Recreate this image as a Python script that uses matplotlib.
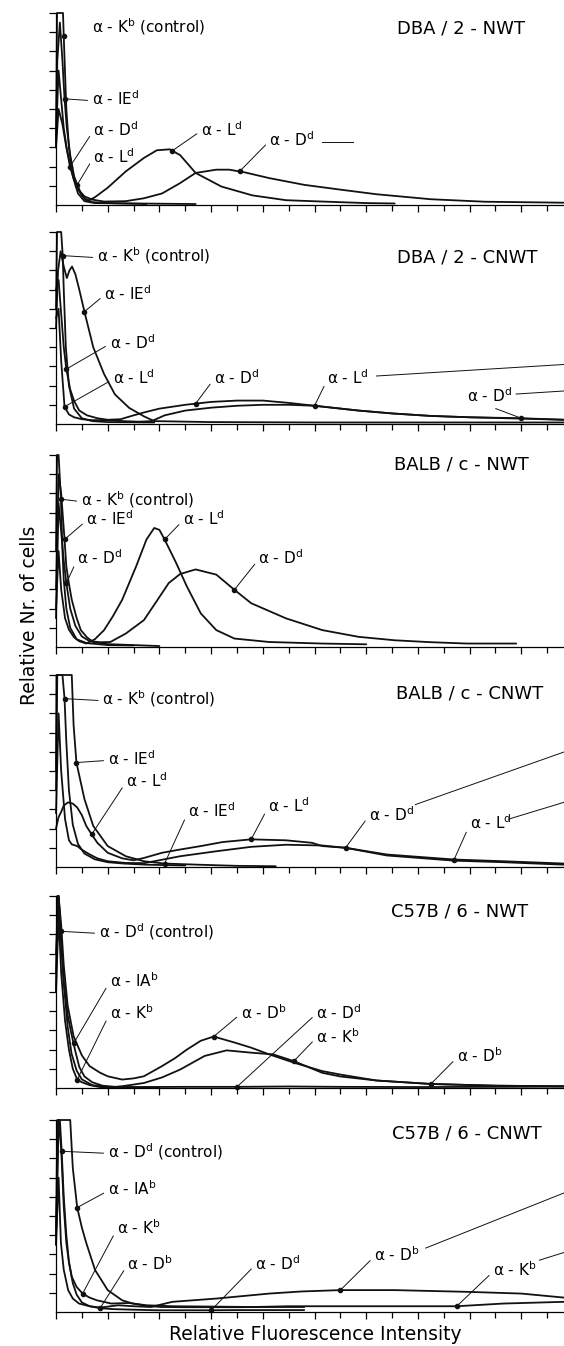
import numpy as np
import matplotlib.pyplot as plt

# x: one unit = one small tick of the intensity axis, y: one unit = one tick of the cell axis
# values

# DBA/2-NWT
p1_kb_x = [0, 0.04, 0.1, 0.18, 0.27, 0.32, 0.4, 0.5, 0.65, 0.85, 1.1, 1.5, 3.0, 5.4]
p1_kb_y = [3.0, 10.5, 11, 10.5, 10, 8.0, 5.0, 3.0, 1.5, 0.6, 0.2, 0.1, 0.08, 0.05]
p1_ied_x = [0, 0.05, 0.15, 0.25, 0.33, 0.42, 0.55, 0.7, 0.9, 1.1, 1.4, 2.0, 3.5]
p1_ied_y = [3.0, 7.5, 9.5, 7.5, 5.53, 4.0, 2.6, 1.5, 0.7, 0.35, 0.15, 0.1, 0.05]
p1_dd_x = [0, 0.1, 0.2, 0.3, 0.42, 0.54, 0.7, 0.9, 1.1, 1.4, 1.86, 2.7, 3.4, 4.1, 4.8, 5.4,
           6.2, 6.7, 7.3, 8.25, 9.6, 11.0, 12.4, 14.5, 16.6, 19.65]
p1_dd_y = [3.5, 7.0, 5.5, 4.0, 2.9, 2.0, 1.3, 0.75, 0.45, 0.28, 0.18, 0.2, 0.35, 0.6, 1.14, 1.67,
           1.84, 1.84, 1.7, 1.4, 1.05, 0.8, 0.56, 0.3, 0.17, 0.12]
p1_ld_x = [0, 0.1, 0.25, 0.4, 0.6, 0.82, 1.0, 1.2, 1.5, 2.0, 2.7, 3.4, 3.9, 4.4, 4.8, 5.4,
           6.4, 7.6, 8.9, 10.3, 12.0, 13.1]
p1_ld_y = [3.0, 5.0, 4.2, 3.0, 1.8, 1.05, 0.5, 0.2, 0.4, 0.9, 1.75, 2.45, 2.85, 2.9, 2.6, 1.67,
           0.96, 0.5, 0.25, 0.18, 0.1, 0.08]

# DBA/2-CNWT
p2_kb_x = [0, 0.04, 0.12, 0.2, 0.26, 0.3, 0.38, 0.5, 0.7, 1.0, 1.4, 2.0, 3.8]
p2_kb_y = [6.0, 11, 11, 10, 8.77, 7.0, 4.0, 2.0, 0.8, 0.3, 0.15, 0.1, 0.08]
p2_ied_x = [0, 0.08, 0.18, 0.3, 0.42, 0.52, 0.62, 0.75, 0.9, 1.1, 1.44, 1.86, 2.28, 2.83, 3.4,
            3.8, 6.0, 10.0, 15.0, 19.65]
p2_ied_y = [5.0, 8.0, 9.0, 8.2, 7.6, 8.0, 8.2, 7.8, 7.0, 5.85, 4.0, 2.6, 1.54, 0.84, 0.4,
            0.15, 0.1, 0.08, 0.08, 0.08]
p2_dd_x = [0, 0.1, 0.2, 0.3, 0.4, 0.55, 0.7, 0.9, 1.2, 1.6, 2.0, 2.5, 3.0, 3.4, 4.0, 5.0, 6.0,
           7.0, 8.0, 9.0, 10.0, 11.7, 13.0, 14.5, 16.0, 18.0, 19.65]
p2_dd_y = [7.0, 7.5, 5.75, 4.0, 2.86, 1.8, 1.2, 0.7, 0.45, 0.3, 0.22, 0.25, 0.45, 0.6, 0.8, 1.0,
           1.15, 1.22, 1.22, 1.1, 0.95, 0.7, 0.55, 0.42, 0.35, 0.3, 0.22]
p2_ld_x = [0, 0.1, 0.2, 0.33, 0.5, 0.7, 1.0, 1.4, 2.0, 2.6, 3.2, 3.7, 4.2, 5.0, 6.0, 7.0, 8.0,
           9.0, 10.0, 11.7, 13.0, 14.5, 16.0, 18.0, 19.65]
p2_ld_y = [5.5, 6.0, 3.3, 0.9, 0.5, 0.35, 0.25, 0.2, 0.2, 0.15, 0.12, 0.15, 0.45, 0.7, 0.85,
           0.95, 1.0, 1.0, 0.95, 0.7, 0.55, 0.42, 0.35, 0.28, 0.22]

# BALB/c-NWT
p3_kb_x = [0, 0.04, 0.1, 0.19, 0.25, 0.3, 0.4, 0.55, 0.8, 1.2, 2.0, 3.0]
p3_kb_y = [5, 11, 12, 7.7, 5, 3.5, 2, 1, 0.4, 0.2, 0.1, 0.08]
p3_ied_x = [0, 0.1, 0.2, 0.33, 0.4, 0.5, 0.61, 0.8, 0.96, 1.2, 1.44, 2.0, 3.0, 4.0]
p3_ied_y = [3, 9, 8, 5.6, 4.2, 3.3, 2.46, 1.5, 0.88, 0.5, 0.26, 0.15, 0.1, 0.05]
p3_dd_x = [0, 0.1, 0.2, 0.3, 0.4, 0.55, 0.75, 1.0, 1.3, 1.7, 2.1, 2.7, 3.4, 3.9, 4.36, 4.8, 5.4,
           6.2, 6.9, 7.55, 8.9, 10.3, 11.7, 13.1, 14.5, 15.9, 17.8]
p3_dd_y = [1.5, 7.5, 6, 4.5, 3.33, 2.0, 1.1, 0.55, 0.3, 0.25, 0.26, 0.7, 1.4, 2.4, 3.33, 3.8,
           4.04, 3.77, 2.98, 2.28, 1.49, 0.88, 0.53, 0.35, 0.25, 0.18, 0.18]
p3_ld_x = [0, 0.1, 0.2, 0.35, 0.5, 0.7, 0.9, 1.17, 1.5, 1.86, 2.2, 2.56, 3.1, 3.5, 3.8, 4.0, 4.2,
           4.64, 5.06, 5.6, 6.2, 6.9, 8.25, 10.3, 12.0]
p3_ld_y = [2.0, 5.0, 3.0, 1.5, 0.9, 0.5, 0.3, 0.18, 0.4, 0.88, 1.6, 2.46, 4.2, 5.6, 6.2, 6.1,
           5.6, 4.4, 3.16, 1.75, 0.88, 0.44, 0.26, 0.18, 0.14]

# BALB/c-CNWT
p4_kb_x = [0, 0.05, 0.15, 0.25, 0.33, 0.4, 0.5, 0.65, 0.85, 1.1, 1.5, 2.0, 2.6, 3.5, 5.0]
p4_kb_y = [4, 11, 11, 10, 8.77, 6.5, 4.0, 2.2, 1.2, 0.7, 0.4, 0.25, 0.18, 0.12, 0.08]
p4_ied_x = [0, 0.02, 0.61, 0.68, 0.79, 1.1, 1.44, 2.0, 2.7, 3.4, 4.2, 5.5, 7.0, 8.5]
p4_ied_y = [5, 12, 12, 7.4, 5.44, 3.54, 2.14, 1.09, 0.56, 0.3, 0.18, 0.12, 0.06, 0.04]
p4_ld_x = [0, 0.1, 0.19, 0.3, 0.47, 0.65, 0.82, 1.0, 1.17, 1.38, 1.6, 2.0, 2.56, 3.0, 3.4, 4.1,
           4.8, 5.6, 6.45, 7.55, 8.9, 9.9, 10.3, 11.2, 12.8, 15.4, 17.3, 19.65]
p4_ld_y = [2.0, 2.6, 2.84, 3.2, 3.37, 3.3, 3.1, 2.7, 2.14, 1.7, 1.26, 0.74, 0.45, 0.35, 0.47,
           0.74, 0.91, 1.09, 1.3, 1.44, 1.39, 1.26, 1.09, 1.0, 0.65, 0.39, 0.3, 0.18]
p4_dd_x = [0, 0.1, 0.2, 0.35, 0.5, 0.61, 0.82, 1.0, 1.31, 1.6, 2.0, 2.7, 3.4, 3.8, 4.8, 6.2,
           7.55, 8.9, 10.3, 11.2, 12.8, 15.4, 17.3, 19.65]
p4_dd_y = [2.8, 8, 5, 2.5, 1.4, 1.18, 1.09, 0.9, 0.65, 0.45, 0.3, 0.21, 0.2, 0.3, 0.56, 0.82,
           1.05, 1.16, 1.12, 1.0, 0.6, 0.33, 0.25, 0.12]

# C57B/6-NWT
p5_dd_x = [0, 0.05, 0.1, 0.19, 0.3, 0.45, 0.6, 0.8, 1.0, 1.4, 2.0, 3.0, 5.0, 7.0, 9.0, 11.0,
           14.0, 17.0, 19.65]
p5_dd_y = [5, 12, 12, 8.16, 5.5, 3.2, 1.8, 0.9, 0.45, 0.15, 0.05, 0.05, 0.06, 0.06, 0.08, 0.06,
           0.05, 0.06, 0.07]
p5_iab_x = [0, 0.1, 0.2, 0.3, 0.45, 0.6, 0.75, 0.9, 1.1, 1.4, 1.8, 2.3, 3.0, 4.0]
p5_iab_y = [6, 10, 7.5, 5.5, 3.8, 2.8, 1.9, 1.1, 0.6, 0.3, 0.12, 0.06, 0.04, 0.03]
p5_kb_x = [0, 0.1, 0.2, 0.35, 0.5, 0.65, 0.82, 1.0, 1.3, 1.7, 2.0, 2.6, 3.4, 4.1, 4.8, 5.75,
           6.6, 7.55, 8.4, 9.2, 10.3, 11.0, 12.4, 14.5, 17.0, 19.65]
p5_kb_y = [5, 9, 6, 3.5, 2.0, 1.0, 0.44, 0.3, 0.15, 0.05, 0.02, 0.1, 0.26, 0.55, 0.96, 1.67,
           1.96, 1.84, 1.75, 1.4, 0.79, 0.6, 0.39, 0.21, 0.12, 0.09]
p5_db_x = [0, 0.1, 0.2, 0.3, 0.45, 0.68, 1.0, 1.3, 1.7, 2.0, 2.56, 3.0, 3.4, 4.1, 4.6, 5.06,
           5.6, 6.1, 6.9, 7.55, 8.25, 9.2, 10.3, 11.0, 12.4, 14.5, 17.0, 19.65]
p5_db_y = [7, 11, 8.5, 6.4, 4.3, 2.7, 1.7, 1.14, 0.8, 0.61, 0.44, 0.5, 0.61, 1.14, 1.55, 2.0,
           2.46, 2.68, 2.37, 2.1, 1.75, 1.32, 0.88, 0.7, 0.39, 0.21, 0.12, 0.09]

# C57B/6-CNWT
p6_dd_x = [0, 0.05, 0.15, 0.22, 0.3, 0.4, 0.5, 0.65, 0.8, 1.0, 1.3, 1.7, 2.2, 3.0, 3.9, 5.0,
           6.0, 7.0, 9.6]
p6_dd_y = [3.5, 12, 12, 8.37, 6.0, 4.0, 2.6, 1.5, 0.9, 0.5, 0.3, 0.2, 0.15, 0.12, 0.09, 0.09,
           0.09, 0.1, 0.1]
p6_iab_x = [0, 0.1, 0.3, 0.5, 0.55, 0.65, 0.82, 1.0, 1.17, 1.51, 2.0, 2.56, 2.97, 3.5, 4.08,
            5.0, 6.0, 7.0, 8.0, 9.6]
p6_iab_y = [4, 12, 12, 12, 10, 7.5, 5.44, 4.4, 3.6, 2.19, 1.14, 0.61, 0.44, 0.32, 0.26, 0.25,
            0.25, 0.25, 0.26, 0.26]
p6_kb_x = [0, 0.1, 0.2, 0.3, 0.4, 0.5, 0.61, 0.8, 1.03, 1.3, 1.58, 2.14, 2.83, 3.5, 4.5, 6.2,
           7.6, 9.0, 11.7, 13.5, 15.5, 17.3, 19.65]
p6_kb_y = [4, 12, 8.5, 5.5, 3.6, 2.6, 1.84, 1.3, 0.96, 0.75, 0.61, 0.44, 0.47, 0.35, 0.3, 0.28,
           0.26, 0.3, 0.3, 0.3, 0.3, 0.44, 0.53]
p6_db_x = [0, 0.1, 0.19, 0.3, 0.47, 0.65, 0.89, 1.3, 1.72, 2.4, 3.0, 3.67, 4.5, 6.2, 8.25, 9.5,
           11.0, 13.1, 15.9, 18.0, 19.65]
p6_db_y = [3.5, 7, 3.6, 2.2, 1.14, 0.7, 0.44, 0.3, 0.23, 0.35, 0.3, 0.26, 0.53, 0.7, 0.96, 1.07,
           1.14, 1.14, 1.05, 0.96, 0.75]

titles = ['DBA / 2 - NWT', 'DBA / 2 - CNWT', 'BALB / c - NWT',
          'BALB / c - CNWT', 'C57B / 6 - NWT', 'C57B / 6 - CNWT']


def lab(locus, allele, extra=''):
    return 'α - ' + locus + r'$\mathregular{^{' + allele + '}}$' + extra


CTRL = ' (control)'

curves = [
    {'kb': (p1_kb_x, p1_kb_y), 'ied': (p1_ied_x, p1_ied_y), 'dd': (p1_dd_x, p1_dd_y), 'ld': (p1_ld_x, p1_ld_y)},
    {'kb': (p2_kb_x, p2_kb_y), 'ied': (p2_ied_x, p2_ied_y), 'dd': (p2_dd_x, p2_dd_y), 'ld': (p2_ld_x, p2_ld_y)},
    {'kb': (p3_kb_x, p3_kb_y), 'ied': (p3_ied_x, p3_ied_y), 'dd': (p3_dd_x, p3_dd_y), 'ld': (p3_ld_x, p3_ld_y)},
    {'kb': (p4_kb_x, p4_kb_y), 'ied': (p4_ied_x, p4_ied_y), 'ld': (p4_ld_x, p4_ld_y), 'dd': (p4_dd_x, p4_dd_y)},
    {'dd': (p5_dd_x, p5_dd_y), 'iab': (p5_iab_x, p5_iab_y), 'kb': (p5_kb_x, p5_kb_y), 'db': (p5_db_x, p5_db_y)},
    {'dd': (p6_dd_x, p6_dd_y), 'iab': (p6_iab_x, p6_iab_y), 'kb': (p6_kb_x, p6_kb_y), 'db': (p6_db_x, p6_db_y)},
]

# label, curve, x of the dot on the curve, text x, text y, leader line
notes = [
    [(lab('K', 'b', CTRL), 'kb', 0.3, 1.38, 9.3, False),
     (lab('IE', 'd'), 'ied', 0.33, 1.38, 5.53, True),
     (lab('D', 'd'), 'dd', 0.54, 1.44, 3.95, True),
     (lab('L', 'd'), 'ld', 0.82, 1.44, 2.54, True),
     (lab('L', 'd'), 'ld', 4.5, 5.6, 3.95, True),
     (lab('D', 'd'), 'dd', 7.1, 8.25, 3.42, True)],
    [(lab('K', 'b', CTRL), 'kb', 0.26, 1.58, 8.77, True),
     (lab('IE', 'd'), 'ied', 1.1, 1.86, 6.8, True),
     (lab('D', 'd'), 'dd', 0.4, 2.07, 4.26, True),
     (lab('L', 'd'), 'ld', 0.33, 2.2, 2.42, True),
     (lab('D', 'd'), 'dd', 5.4, 6.1, 2.42, True),
     (lab('L', 'd'), 'ld', 10.0, 10.5, 2.42, True),
     (lab('D', 'd'), 'dd', 18.0, 15.9, 1.46, True)],
    [(lab('K', 'b', CTRL), 'kb', 0.19, 0.96, 7.68, True),
     (lab('IE', 'd'), 'ied', 0.33, 1.17, 6.67, True),
     (lab('D', 'd'), 'dd', 0.4, 0.82, 4.65, True),
     (lab('L', 'd'), 'ld', 4.2, 4.9, 6.67, True),
     (lab('D', 'd'), 'dd', 6.9, 7.83, 4.65, True)],
    [(lab('K', 'b', CTRL), 'kb', 0.33, 1.79, 8.77, True),
     (lab('IE', 'd'), 'ied', 0.79, 2.0, 5.65, True),
     (lab('L', 'd'), 'ld', 1.38, 2.7, 4.5, True),
     (lab('IE', 'd'), 'ied', 4.2, 5.1, 2.93, True),
     (lab('L', 'd'), 'ld', 7.55, 8.2, 3.19, True),
     (lab('D', 'd'), 'dd', 11.2, 12.1, 2.75, True),
     (lab('L', 'd'), 'ld', 15.4, 16.0, 2.3, True)],
    [(lab('D', 'd', CTRL), 'dd', 0.19, 1.65, 8.16, True),
     (lab('IA', 'b'), 'iab', 0.68, 2.07, 5.6, True),
     (lab('K', 'b'), 'kb', 0.82, 2.07, 3.95, True),
     (lab('D', 'b'), 'db', 6.1, 7.14, 3.95, True),
     (lab('D', 'd'), 'dd', 7.0, 10.06, 3.95, True),
     (lab('K', 'b'), 'kb', 9.2, 10.06, 2.7, True),
     (lab('D', 'b'), 'db', 14.5, 15.5, 1.67, True)],
    [(lab('D', 'd', CTRL), 'dd', 0.22, 2.0, 8.37, True),
     (lab('IA', 'b'), 'iab', 0.82, 2.0, 6.4, True),
     (lab('K', 'b'), 'kb', 1.03, 2.35, 4.4, True),
     (lab('D', 'b'), 'db', 1.72, 2.76, 2.54, True),
     (lab('D', 'd'), 'dd', 6.0, 7.7, 2.54, True),
     (lab('D', 'b'), 'db', 11.0, 12.3, 2.97, True),
     (lab('K', 'b'), 'kb', 15.5, 16.9, 2.19, True)],
]

# loose leader lines running off to the right (their labels are outside the picture)
tails = [
    [(10.3, 3.3, 11.5, 3.3)],
    [(12.4, 2.5, 19.65, 3.1), (17.8, 1.56, 19.65, 1.72)],
    [],
    [(13.9, 3.25, 19.65, 5.99), (17.5, 2.49, 19.65, 3.37)],
    [],
    [(14.3, 3.33, 19.65, 6.2), (18.7, 2.7, 19.65, 3.1)],
]

title_pos = [(0.923, 0.92), (0.948, 0.866), (0.930, 0.948),
             (0.959, 0.905), (0.930, 0.918), (0.955, 0.93)]
baselines = [205, 424, 647, 867, 1088, 1312]   # pixel rows of the x axes

W_PX, H_PX = 564, 1346
fig = plt.figure(figsize=(W_PX / 100, H_PX / 100), dpi=100)
left = 56 / W_PX
width = 1 - left
height = 192 / H_PX
XMAX = 19.65

for i in range(6):
    ax = fig.add_axes([left, 1 - baselines[i] / H_PX, width, height])
    for key, (xs, ys) in curves[i].items():
        ax.plot(xs, np.minimum(ys, 10), color='#111111', lw=1.3, clip_on=False,
                solid_joinstyle='round', solid_capstyle='round')
    for text, key, xa, tx, ty, lead in notes[i]:
        xs, ys = curves[i][key]
        ya = min(float(np.interp(xa, xs, ys)), 10)
        ax.plot(xa, ya, 'o', ms=3, color='#111111', clip_on=False)
        if lead:
            ax.annotate(text, xy=(xa, ya), xytext=(tx, ty), ha='left', va='center', fontsize=11,
                        arrowprops=dict(arrowstyle='-', lw=0.7, color='#111111',
                                        shrinkA=1, shrinkB=0, relpos=(0, 0.4)))
        else:
            ax.text(tx, ty, text, ha='left', va='center', fontsize=11)
    for x0, y0, x1, y1 in tails[i]:
        ax.plot([x0, x1], [y0, y1], color='#111111', lw=0.7, clip_on=False)
    tx, ty = title_pos[i]
    ax.text(tx, ty, titles[i], transform=ax.transAxes, ha='right', va='center', fontsize=13)

    ax.set_xlim(0, XMAX)
    ax.set_ylim(0, 10)
    ax.set_xticks(np.arange(0, XMAX, 2))
    ax.set_xticks(np.arange(1, XMAX, 2), minor=True)
    ax.set_yticks(np.arange(1, 11))
    ax.tick_params(axis='x', which='major', direction='out', length=5, width=0.9, labelbottom=False)
    ax.tick_params(axis='x', which='minor', direction='out', length=4, width=0.9)
    ax.tick_params(axis='y', direction='out', length=5, width=0.9, labelleft=False)
    for s in ['top', 'right']:
        ax.spines[s].set_visible(False)
    for s in ['left', 'bottom']:
        ax.spines[s].set_linewidth(0.9)
    ax.patch.set_alpha(0)

fig.text(30 / W_PX, 1 - 615 / H_PX, 'Relative Nr. of cells', rotation=90,
         ha='center', va='center', fontsize=13.5)
fig.text(315 / W_PX, 1 - 1335 / H_PX, 'Relative Fluorescence Intensity',
         ha='center', va='center', fontsize=13.5)

fig.savefig('out.png', dpi=100)
